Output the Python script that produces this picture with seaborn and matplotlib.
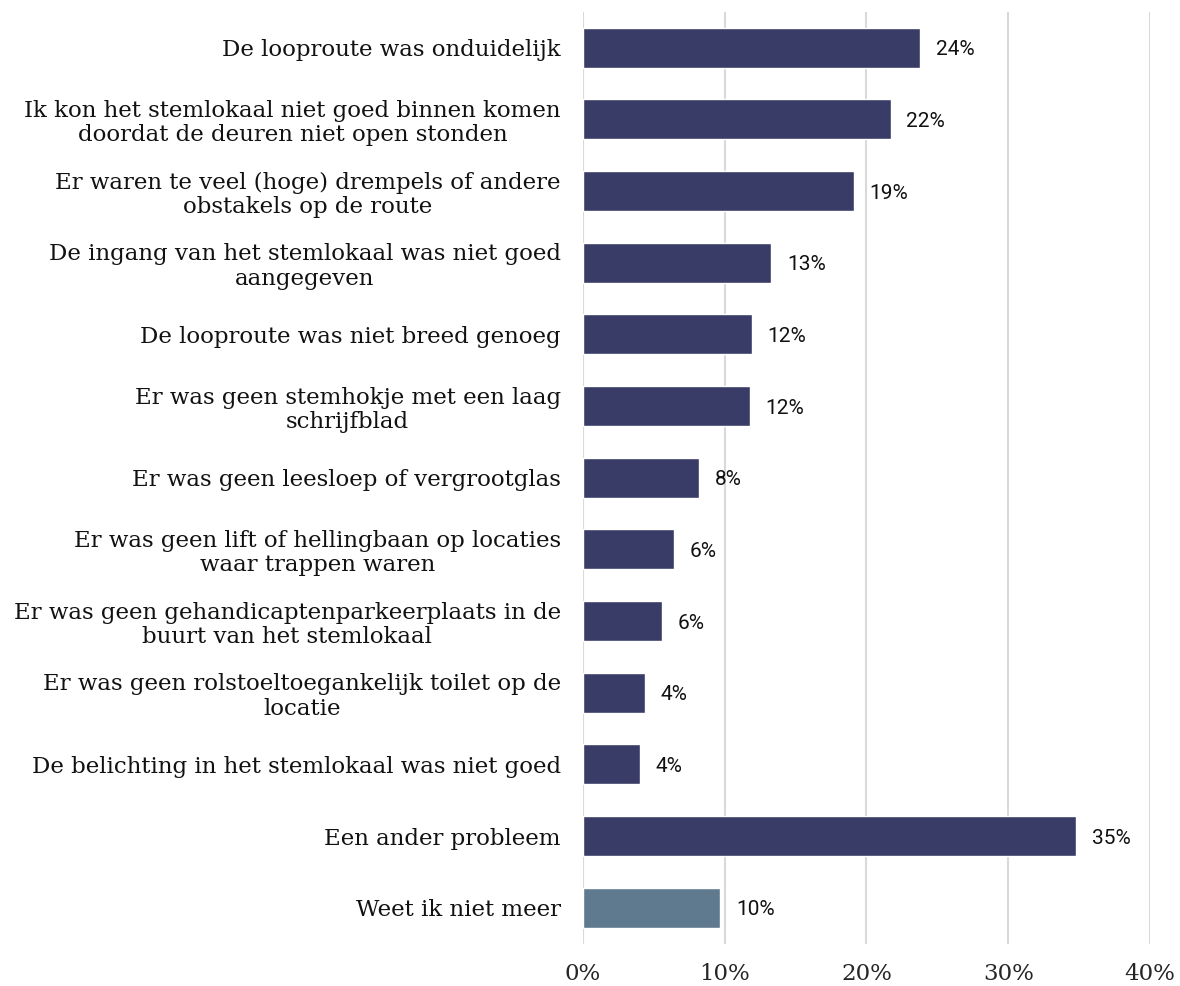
import matplotlib
matplotlib.use("Agg")
import matplotlib.pyplot as plt
import seaborn as sns
import pandas as pd

# Problems reported with the polling station (share of respondents)
categories = [
    "De looproute was onduidelijk",
    "Ik kon het stemlokaal niet goed binnen komen\ndoordat de deuren niet open stonden",
    "Er waren te veel (hoge) drempels of andere\nobstakels op de route",
    "De ingang van het stemlokaal was niet goed\naangegeven",
    "De looproute was niet breed genoeg",
    "Er was geen stemhokje met een laag\nschrijfblad",
    "Er was geen leesloep of vergrootglas",
    "Er was geen lift of hellingbaan op locaties\nwaar trappen waren",
    "Er was geen gehandicaptenparkeerplaats in de\nbuurt van het stemlokaal",
    "Er was geen rolstoeltoegankelijk toilet op de\nlocatie",
    "De belichting in het stemlokaal was niet goed",
    "Een ander probleem",
    "Weet ik niet meer",
]
values = [23.8, 21.7, 19.1, 13.3, 11.9, 11.8, 8.2, 6.4, 5.6, 4.4, 4.0, 34.8, 9.7]
value_labels = ["24%", "22%", "19%", "13%", "12%", "12%", "8%", "6%", "6%", "4%", "4%", "35%", "10%"]
ticks = [0, 10, 20, 30, 40]
tick_labels = ["0%", "10%", "20%", "30%", "40%"]

df = pd.DataFrame({"categorie": categories, "waarde": values})
colors = ["#393C67"] * (len(categories) - 1) + ["#5F7A8E"]

sns.set_style("white")
fig = plt.figure(figsize=(11.8, 9.86), dpi=100)
ax = fig.add_axes([0.494, 0.043, 0.4806, 0.945])

sns.barplot(data=df, x="waarde", y="categorie", hue="categorie", palette=colors,
            saturation=1, legend=False, width=0.56, ax=ax, zorder=3)

ax.set_xlim(0, 40)
ax.set_xticks(ticks)
ax.set_xticklabels(tick_labels, fontfamily="DejaVu Serif", fontsize=16.5)
ax.tick_params(axis="x", length=0, pad=14)
ax.tick_params(axis="y", length=0, pad=16)
for lab in ax.get_yticklabels():
    lab.set_fontfamily("DejaVu Serif")
    lab.set_fontsize(16.5)
    lab.set_color("#111111")
    lab.set_multialignment("center")
    lab.set_linespacing(1.15)
ax.set_xlabel("")
ax.set_ylabel("")
ax.grid(axis="x", color="#D9D9D9", linewidth=1.5, zorder=0)
for s in ax.spines.values():
    s.set_visible(False)

for i, (v, t) in enumerate(zip(values, value_labels)):
    ax.text(v + 1.1, i + 0.03, t, va="center", ha="left", fontfamily="Roboto",
            fontsize=15, color="#111111")

fig.savefig("out.png", dpi=100)
